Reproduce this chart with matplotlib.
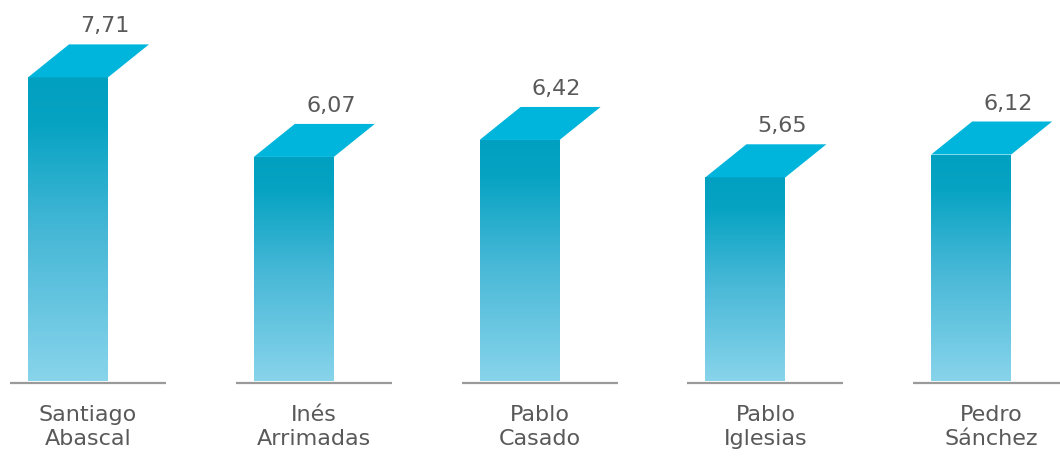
import numpy as np
import matplotlib
matplotlib.use('Agg')
import matplotlib.pyplot as plt
from matplotlib.patches import Polygon
from matplotlib.colors import LinearSegmentedColormap

# datos
nombres = ['Santiago\nAbascal', 'Inés\nArrimadas', 'Pablo\nCasado', 'Pablo\nIglesias', 'Pedro\nSánchez']
valores = [7.71, 6.07, 6.42, 5.65, 6.12]

plt.rcParams['font.family'] = ['DejaVu Sans']

W, H = 1060, 461
fig = plt.figure(figsize=(W / 100, H / 100), dpi=100)
ax = fig.add_axes([0, 0, 1, 1])
ax.axis('off')

px_cat = 225.8      # pixeles por categoria
px_val = 48.5       # pixeles por unidad
v0 = 1.45           # origen del eje
base_px = 80        # linea base desde abajo
x0_px = 68          # centro de la primera barra

ax.set_xlim(-x0_px / px_cat, (W - x0_px) / px_cat)
ax.set_ylim(v0 - base_px / px_val, v0 + (H - base_px) / px_val)

x = np.arange(len(valores))
ancho = 80 / px_cat
dx, dy = 41 / px_cat, 33 / px_val

cmap = LinearSegmentedColormap.from_list(
    'grad', [(0, '#88d4eb'), (0.5, '#45b7d6'), (0.85, '#06a3c3'), (1, '#02a0c0')])
grad = np.linspace(0, 1, 256).reshape(-1, 1)

barras = ax.bar(x, np.array(valores) - v0, bottom=v0, width=ancho,
                color='none', edgecolor='none')

for xi, v, b in zip(x, valores, barras):
    l, r = xi - ancho / 2, xi + ancho / 2
    im = ax.imshow(grad, cmap=cmap, origin='lower', aspect='auto',
                   extent=(l, r, v0, v), zorder=2)
    im.set_clip_path(b)
    # tapa inclinada
    ax.add_patch(Polygon([(l, v), (r, v), (r + dx, v + dy), (l + dx, v + dy)],
                         closed=True, facecolor='#00b5dc', edgecolor='none', zorder=3))
    # linea base
    ax.hlines(v0 - 1.5 / px_val, xi - 58 / px_cat, xi + 98 / px_cat,
              color='#9a9a9a', linewidth=1.6, zorder=1)
    ax.annotate(f'{v:.2f}'.replace('.', ','), xy=(xi, v), xytext=(37, 45),
                textcoords='offset pixels', ha='center', va='baseline',
                fontsize=16, color='#595959')

for xi, n in zip(x, nombres):
    ax.annotate(n, xy=(xi, v0), xytext=(20, -24), textcoords='offset pixels',
                ha='center', va='top', fontsize=16, color='#595959', linespacing=1.25)

fig.savefig('out.png', dpi=100)
